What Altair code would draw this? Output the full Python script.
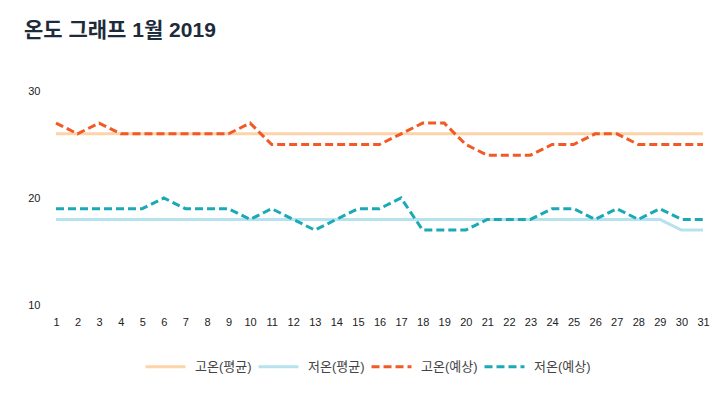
import altair as alt
import pandas as pd

days = list(range(1, 32))
high_avg = [26, 26, 26, 26, 26, 26, 26, 26, 26, 26, 26, 26, 26, 26, 26, 26,
            26, 26, 26, 26, 26, 26, 26, 26, 26, 26, 26, 26, 26, 26, 26]
low_avg = [18, 18, 18, 18, 18, 18, 18, 18, 18, 18, 18, 18, 18, 18, 18, 18,
           18, 18, 18, 18, 18, 18, 18, 18, 18, 18, 18, 18, 18, 17, 17]
high_fc = [27, 26, 27, 26, 26, 26, 26, 26, 26, 27, 25, 25, 25, 25, 25, 25,
           26, 27, 27, 25, 24, 24, 24, 25, 25, 26, 26, 25, 25, 25, 25]
low_fc = [19, 19, 19, 19, 19, 20, 19, 19, 19, 18, 19, 18, 17, 18, 19, 19,
          20, 17, 17, 17, 18, 18, 18, 19, 19, 18, 19, 18, 19, 18, 18]

series_names = ["고온(평균)", "저온(평균)", "고온(예상)", "저온(예상)"]
series_values = [high_avg, low_avg, high_fc, low_fc]
colors = ["#fdd3aa", "#b6e2ed", "#f15a24", "#1ba9b6"]
dashes = [[1, 0], [1, 0], [8, 4], [8, 4]]
y_ticks = [10, 20, 30]

rows = []
for order, (name, vals) in enumerate(zip(series_names, series_values)):
    for d, v in zip(days, vals):
        rows.append({"day": d, "temp": v, "series": name, "order": order})
df = pd.DataFrame(rows)

font = "Liberation Sans, Noto Sans CJK KR, sans-serif"

chart = alt.Chart(df).mark_line(strokeWidth=3).encode(
    x=alt.X("day:Q", scale=alt.Scale(domain=[1, 31], nice=False),
            axis=alt.Axis(values=days, title=None, domain=False, ticks=False,
                          grid=False, labelPadding=11, labelFontSize=11,
                          labelFlush=False, labelOverlap=False,
                          labelColor="#222", labelFont=font)),
    y=alt.Y("temp:Q", scale=alt.Scale(domain=[10, 30], nice=False),
            axis=alt.Axis(values=y_ticks, title=None, domain=False, ticks=False,
                          grid=False, labelPadding=16, labelFontSize=11,
                          labelFlush=False,
                          labelColor="#222", labelFont=font)),
    color=alt.Color("series:N", sort=series_names,
                    scale=alt.Scale(domain=series_names, range=colors),
                    legend=alt.Legend(title=None, orient="none", direction="horizontal",
                                      legendX=88, legendY=254,
                                      symbolType="stroke", symbolSize=1600,
                                      symbolStrokeWidth=3, labelFontSize=13,
                                      labelColor="#444", labelFont=font,
                                      labelOffset=8, columnPadding=0, padding=0)),
    strokeDash=alt.StrokeDash("series:N", sort=series_names,
                              scale=alt.Scale(domain=series_names, range=dashes),
                              legend=None),
    order=alt.Order("order:Q"),
    detail="series:N",
).properties(
    width=647,
    height=214,
    padding={"left": 48, "top": 83, "right": 15, "bottom": 70},
    autosize=alt.AutoSizeParams(type="none"),
    title=alt.TitleParams("온도 그래프 1월 2019", anchor="start", frame="group",
                          dx=-32, offset=44, fontSize=21, fontWeight="bold",
                          color="#1e2b3b", font=font),
).configure_view(stroke=None)

chart.save("out.html", embed_options={"renderer": "svg", "actions": False})
